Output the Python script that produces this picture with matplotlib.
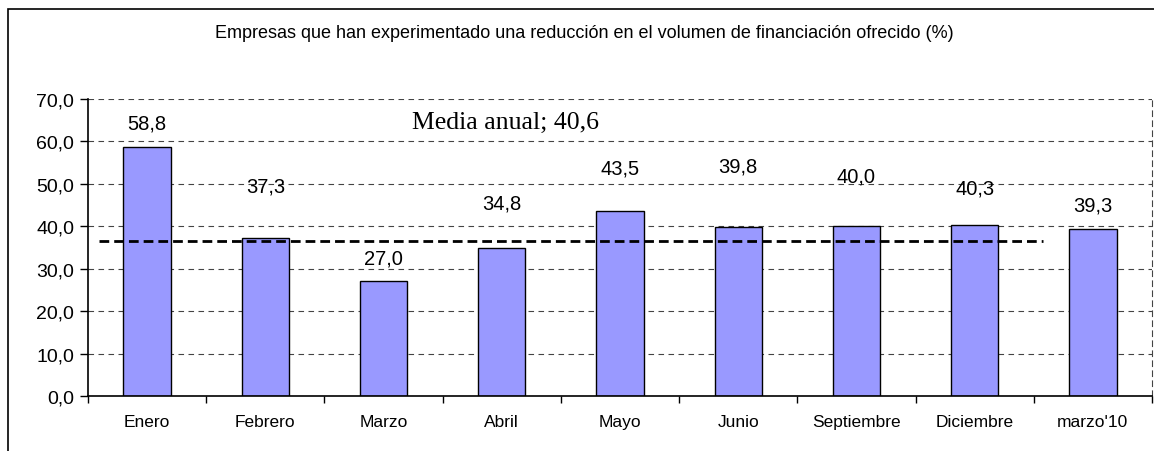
import matplotlib.pyplot as plt
from matplotlib.patches import Rectangle
from matplotlib.ticker import FuncFormatter

# data
months = ["Enero", "Febrero", "Marzo", "Abril", "Mayo", "Junio",
          "Septiembre", "Diciembre", "marzo'10"]
values = [58.8, 37.3, 27.0, 34.8, 43.5, 39.8, 40.0, 40.3, 39.3]
label_y = [64.3, 49.6, 32.5, 45.5, 53.7, 54.3, 51.9, 49.0, 45.0]  # where each value label sits
mean_level = 36.6
mean_text = "Media anual; 40,6"
title = "Empresas que han experimentado una reducción en el volumen de financiación ofrecido (%)"

plt.rcParams['font.family'] = ['Liberation Sans', 'DejaVu Sans']

fig = plt.figure(figsize=(11.54, 4.52), dpi=100)
ax = fig.add_axes([88 / 1154, 1 - 397 / 452, (1152 - 88) / 1154, 297 / 452])

x = list(range(len(months)))
ax.bar(x, values, width=0.4, color='#9999FF', edgecolor='black', linewidth=1.0, zorder=3)

# dashed mean line, Enero .. Diciembre
ax.plot([-0.41, 7.58], [mean_level, mean_level], color='black', linestyle=(0, (3.5, 1.8)),
        linewidth=2.0, zorder=4)
ax.text(3.03, 64.6, mean_text, family='Liberation Serif', fontsize=18.5,
        ha='center', va='center', zorder=5)

for xi, v, ly in zip(x, values, label_y):
    ax.text(xi, ly, f"{v:.1f}".replace('.', ','), ha='center', va='center',
            fontsize=14.5, zorder=5)

ax.set_xlim(-0.5, len(months) - 0.5)
ax.set_ylim(0, 70)
ax.set_yticks(range(0, 71, 10))
ax.yaxis.set_major_formatter(FuncFormatter(lambda v, p: f"{v:.1f}".replace('.', ',')))
ax.tick_params(axis='y', labelsize=14, length=6, width=1, direction='out', pad=4)

ax.set_xticks(x)
ax.set_xticklabels(months, fontsize=12.5)
ax.set_xticks([i - 0.5 for i in range(len(months) + 1)], minor=True)
ax.tick_params(axis='x', which='major', length=0, pad=13)
ax.tick_params(axis='x', which='minor', length=5, width=1, direction='out')

ax.yaxis.grid(True, color='#444444', linestyle=(0, (5, 4)), linewidth=0.8, zorder=0)
ax.set_axisbelow(True)
for s in ['left', 'bottom']:
    ax.spines[s].set_color('black')
    ax.spines[s].set_linewidth(1.2)
    ax.spines[s].set_zorder(6)
ax.spines['top'].set_visible(False)
ax.spines['right'].set_color('#444444')
ax.spines['right'].set_linestyle((0, (5, 4)))
ax.spines['right'].set_linewidth(0.8)

fig.text(584 / 1154, 1 - 33 / 452, title, ha='center', va='center', fontsize=13)

# chart frame border
fig.patches.append(Rectangle((8 / 1154, -0.5), 2, 1.5 - 10 / 452, transform=fig.transFigure,
                             fill=False, edgecolor='black', linewidth=1.2))

fig.savefig('out.png', dpi=100)
